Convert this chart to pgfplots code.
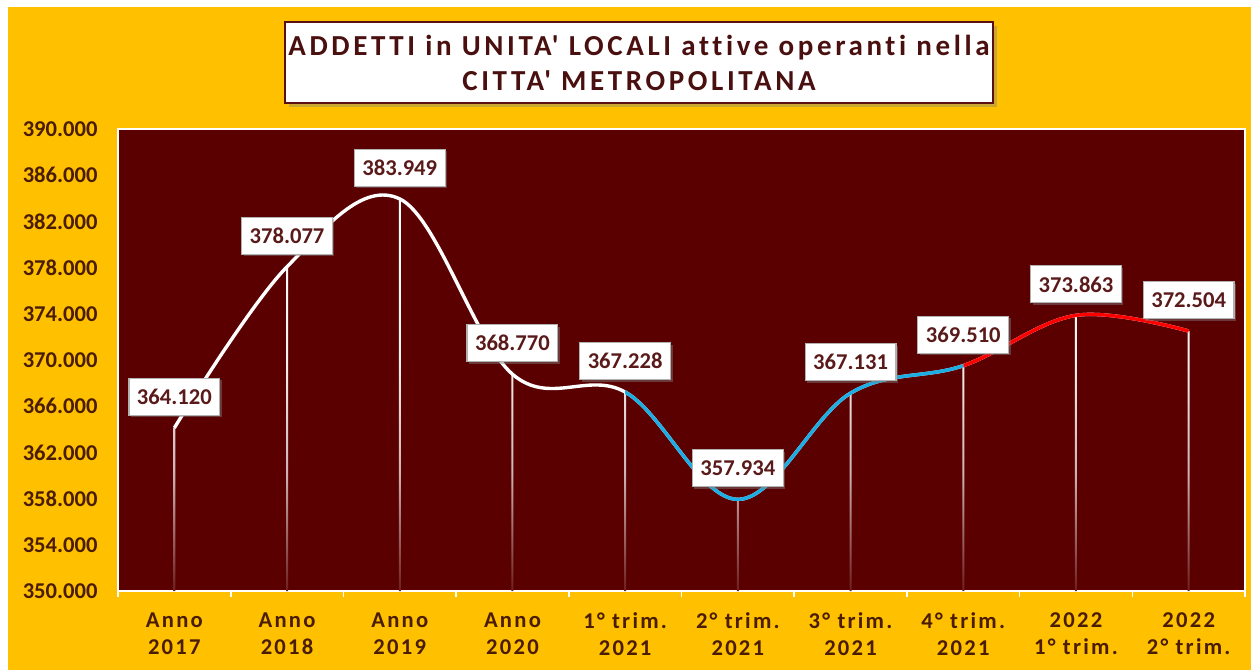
\documentclass[border=0pt]{standalone}
\usepackage{fontspec}
\setmainfont{Carlito}
\newfontfamily\spacedfont[LetterSpace=10, Ligatures={NoCommon}]{Carlito}
\newfontfamily\titlefont[LetterSpace=12.5, Ligatures={NoCommon}]{Carlito}
\usepackage{pgfplots}
\pgfplotsset{compat=1.18}
\usepackage{pgfplotstable}
\usetikzlibrary{shadows}
\definecolor{bgorange}{HTML}{FFC000}
\definecolor{plotbg}{HTML}{5A0000}
\definecolor{labtext}{HTML}{5A1A1A}
\definecolor{ticktext}{HTML}{4A1C00}
\definecolor{titletext}{HTML}{4A0F0F}
\definecolor{titleborder}{HTML}{5A1010}
\definecolor{curveblue}{HTML}{1CADE4}
\definecolor{curvered}{HTML}{FF0000}
\pgfdeclareverticalshading{dropshade}{100bp}{color(0bp)=(white!12!plotbg); color(25bp)=(white!12!plotbg); color(40bp)=(white!70!plotbg); color(55bp)=(white!95!plotbg); color(75bp)=(white); color(100bp)=(white)}
\pgfplotstableread{
x y lab
0 364120 364.120
1 378077 378.077
2 383949 383.949
3 368770 368.770
4 367228 367.228
5 357934 357.934
6 367131 367.131
7 369510 369.510
8 373863 373.863
9 372504 372.504
}\datatable
\begin{document}
\begin{tikzpicture}
\useasboundingbox (0,0) rectangle (625.5pt,335pt);
\fill[white] (0,0) rectangle (625.5pt,335pt);
\fill[bgorange] (4pt,0) rectangle (625.5pt,331.5pt);
\node[draw=titleborder, line width=1pt, fill=white, minimum width=354pt, minimum height=40.5pt,
  inner xsep=1pt, align=center, text=titletext, font=\titlefont\bfseries\fontsize{14.5}{17.5}\selectfont,
  drop shadow={shadow xshift=2pt, shadow yshift=-2pt, opacity=0.4}]
  at (319.5pt,303.75pt) {ADDETTI in UNITA\textquotesingle{} LOCALI attive operanti nella\\CITTA\textquotesingle{} METROPOLITANA};
\begin{axis}[
  at={(59pt,39.5pt)}, anchor=south west, scale only axis,
  width=563.5pt, height=231pt,
  xmin=-0.5, xmax=9.5, ymin=0, ymax=40000,
  y filter/.expression={y-350000},
  scaled y ticks=false,
  axis background/.style={fill=plotbg},
  axis line style={white, line width=0.6pt},
  xtick={0,...,9},
  xticklabels={{Anno\\2017},{Anno\\2018},{Anno\\2019},{Anno\\2020},{1° trim.\\2021},{2° trim.\\2021},{3° trim.\\2021},{4° trim.\\2021},{2022\\1° trim.},{2022\\2° trim.}},
  minor xtick={-0.5,0.5,...,9.5},
  major tick length=0pt, minor tick length=3pt, tick align=outside,
  minor tick style={white, line width=0.8pt},
  major tick style={draw=none},
  xtick pos=left, ytick pos=left,
  ytick={0,4000,...,40000},
  yticklabels={350.000,354.000,358.000,362.000,366.000,370.000,374.000,378.000,382.000,386.000,390.000},
  yticklabel style={font=\bfseries\fontsize{11.3}{13}\selectfont, text=ticktext, xshift=-6.7pt},
  xticklabel style={font=\spacedfont\bfseries\fontsize{11.3}{13.5}\selectfont, text=ticktext, align=center, yshift=-7.5pt},
]
\addplot[ybar, bar width=1pt, bar shift=0pt, draw=none, shade, shading=dropshade] table[x=x,y=y]{\datatable};
\addplot[white, line width=1.7pt, smooth, tension=0.6, mark=none] table[x=x,y=y]{\datatable};
\begin{scope}
\clip (rel axis cs:0.45,-0.2) rectangle (rel axis cs:0.75,1.2);
\addplot[curveblue, line width=1.7pt, smooth, tension=0.6, mark=none] table[x=x,y=y]{\datatable};
\end{scope}
\begin{scope}
\clip (rel axis cs:0.75,-0.2) rectangle (rel axis cs:1.05,1.2);
\addplot[curvered, line width=1.7pt, smooth, tension=0.6, mark=none] table[x=x,y=y]{\datatable};
\end{scope}
\addplot[draw=none, mark=none, nodes near coords, point meta=explicit symbolic,
  nodes near coords style={fill=white, draw=gray!60, line width=0.6pt, text=labtext,
    font=\bfseries\fontsize{11.3}{13}\selectfont, inner xsep=4pt, inner ysep=0pt,
    minimum height=18.5pt, anchor=center, yshift=15.5pt,
    drop shadow={shadow xshift=1pt, shadow yshift=-1pt, opacity=0.45}}]
  table[x=x,y=y,meta=lab]{\datatable};
\end{axis}
\end{tikzpicture}
\end{document}
